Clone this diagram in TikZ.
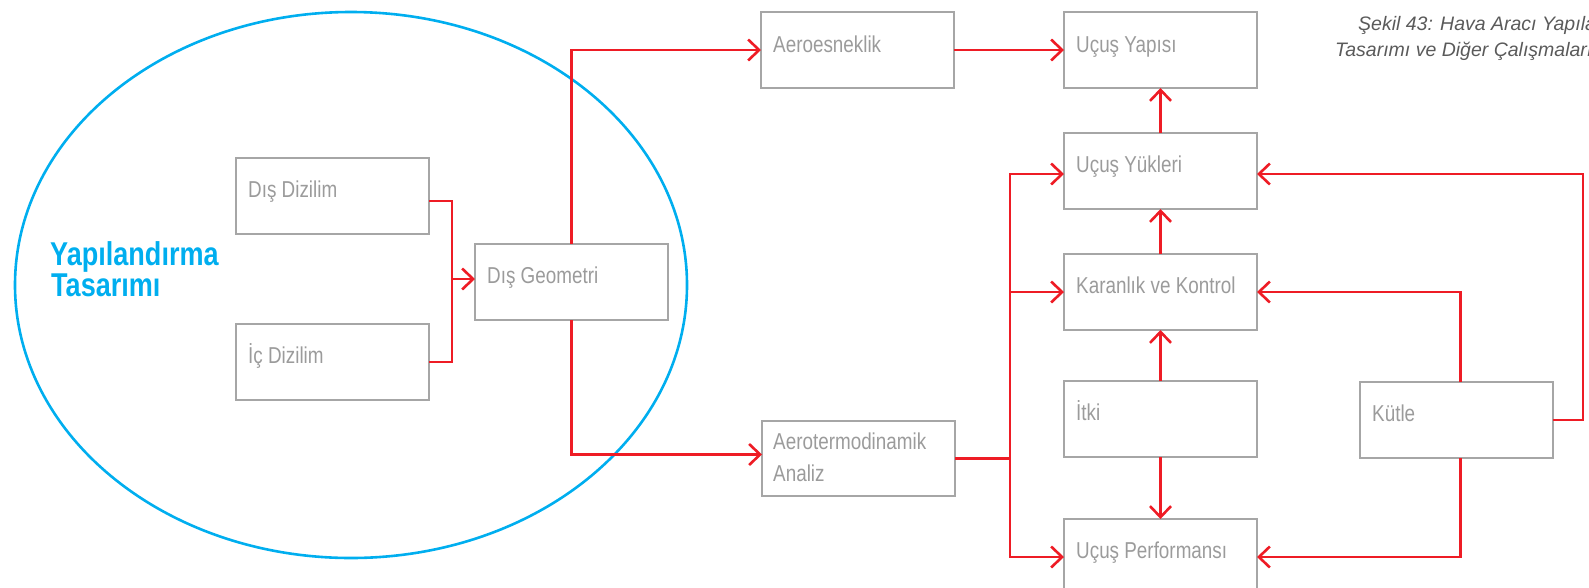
\documentclass[tikz,border=0pt]{standalone}
\usepackage{fontspec}
\setmainfont{Liberation Sans}
\newfontfamily\boxfamily[FakeStretch=0.82]{Liberation Sans}
\newfontfamily\headfamily[FakeStretch=0.82]{Liberation Sans}
\newfontfamily\capfamily{Liberation Sans}
\usetikzlibrary{arrows.meta,shapes.geometric}

\definecolor{linered}{HTML}{EE1C25}
\definecolor{boxgray}{HTML}{A6A6A6}
\definecolor{txtgray}{HTML}{9B9B9B}
\definecolor{headcyan}{HTML}{00AEEF}
\definecolor{capgray}{HTML}{5A5A5A}

\tikzset{
  blk/.style={draw=boxgray, line width=1.6pt, minimum width=193pt, minimum height=76pt,
    anchor=north west, inner sep=0pt, outer sep=0pt},
  blktxt/.style={text=txtgray, font=\boxfamily\fontsize{23}{30}\selectfont,
    anchor=base west, inner sep=0pt},
  wire/.style={draw=linered, line width=2.6pt},
  link/.style={wire, -{Straight Barb[length=11pt,width=21pt]}},
  headtxt/.style={text=headcyan, font=\headfamily\bfseries\fontsize{33}{36}\selectfont,
    anchor=base west, inner sep=0pt},
  captxt/.style={text=capgray, font=\capfamily\itshape\fontsize{19.5}{24}\selectfont,
    anchor=base west, inner sep=0pt},
}

% one box with its caption placed below the top edge
\newcommand{\blkbox}[6]{%
  \node[blk, minimum height=#4] (#1) at (#2,#3) {};
  \node[blktxt] (#1-t) at ([shift={(12pt,-#5)}]#1.north west) {#6};
}

\begin{document}
\begin{tikzpicture}[x=1pt,y=-1pt]
  \useasboundingbox (0,0) rectangle (1589,587);
  \clip (0,0) rectangle (1589,587);

  % configuration design region
  \node[draw=headcyan, line width=2.6pt, ellipse, minimum width=672pt, minimum height=546pt,
        inner sep=0pt] (frame) at (351,285) {};
  \node[headtxt] (head1) at (50,265) {Yapılandırma};
  \node[headtxt] (head2) at (51,296) {Tasarımı};

  % caption, running past the right edge
  \node[captxt] (cap1) at (1358,30) {Şekil 43: Hava Aracı Yapılandırma};
  \node[captxt] (cap2) at (1335,56) {Tasarımı ve Diğer Çalışmaları};

  % boxes
  \blkbox{dd}{236}{158}{76pt}{39pt}{Dış Dizilim}
  \blkbox{ic}{236}{324}{76pt}{39pt}{İç Dizilim}
  \blkbox{dg}{475}{244}{76pt}{39pt}{Dış Geometri}
  \blkbox{ae}{761}{12}{76pt}{40pt}{Aeroesneklik}
  \blkbox{uy}{1064}{12}{76pt}{40pt}{Uçuş Yapısı}
  \blkbox{uk}{1064}{133}{76pt}{39pt}{Uçuş Yükleri}
  \blkbox{kk}{1064}{254}{76pt}{39pt}{Karanlık ve Kontrol}
  \blkbox{it}{1064}{381}{76pt}{39pt}{İtki}
  \blkbox{ku}{1360}{382}{76pt}{39pt}{Kütle}
  \blkbox{up}{1064}{519}{76pt}{39pt}{Uçuş Performansı}
  \node[blk, minimum height=75pt] (at) at (762,421) {};
  \node[blktxt] (at-t1) at ([shift={(11pt,-28pt)}]at.north west) {Aerotermodinamik};
  \node[blktxt] (at-t2) at ([shift={(11pt,-60pt)}]at.north west) {Analiz};

  % layouts merge into the outer geometry
  \coordinate (j1) at (452,279);
  \draw[wire] ([yshift=-5pt]dd.east) -| (j1) |- (ic.east);
  \draw[link] (j1) -- (j1 -| dg.west);

  % outer geometry feeds both analyses
  \draw[link] (dg.north) |- (ae.west);
  \draw[link] (dg.south) |- ([yshift=4pt]at.west);
  \draw[link] (ae.east) -- (uy.west);

  % vertical chain
  \draw[link] (uk.north) -- (uy.south);
  \draw[link] (kk.north) -- (uk.south);
  \draw[link] (it.north) -- (kk.south);
  \draw[link] (it.south) -- (up.north);

  % aerothermodynamics bus
  \coordinate (bus) at ([xshift=55pt]at.east);
  \draw[wire] (at.east) -- (bus);
  \draw[link] (bus) |- ([yshift=-3pt]uk.west);
  \draw[link] (bus) |- (kk.west);
  \draw[link] (bus) |- (up.west);

  % mass feeds
  \draw[link] ([xshift=4pt]ku.north) |- (kk.east);
  \draw[link] ([xshift=4pt]ku.south) |- (up.east);
  \coordinate (rr) at ([xshift=30pt]ku.east);
  \draw[link] (ku.east) -- (rr) |- ([yshift=-3pt]uk.east);
\end{tikzpicture}
\end{document}
